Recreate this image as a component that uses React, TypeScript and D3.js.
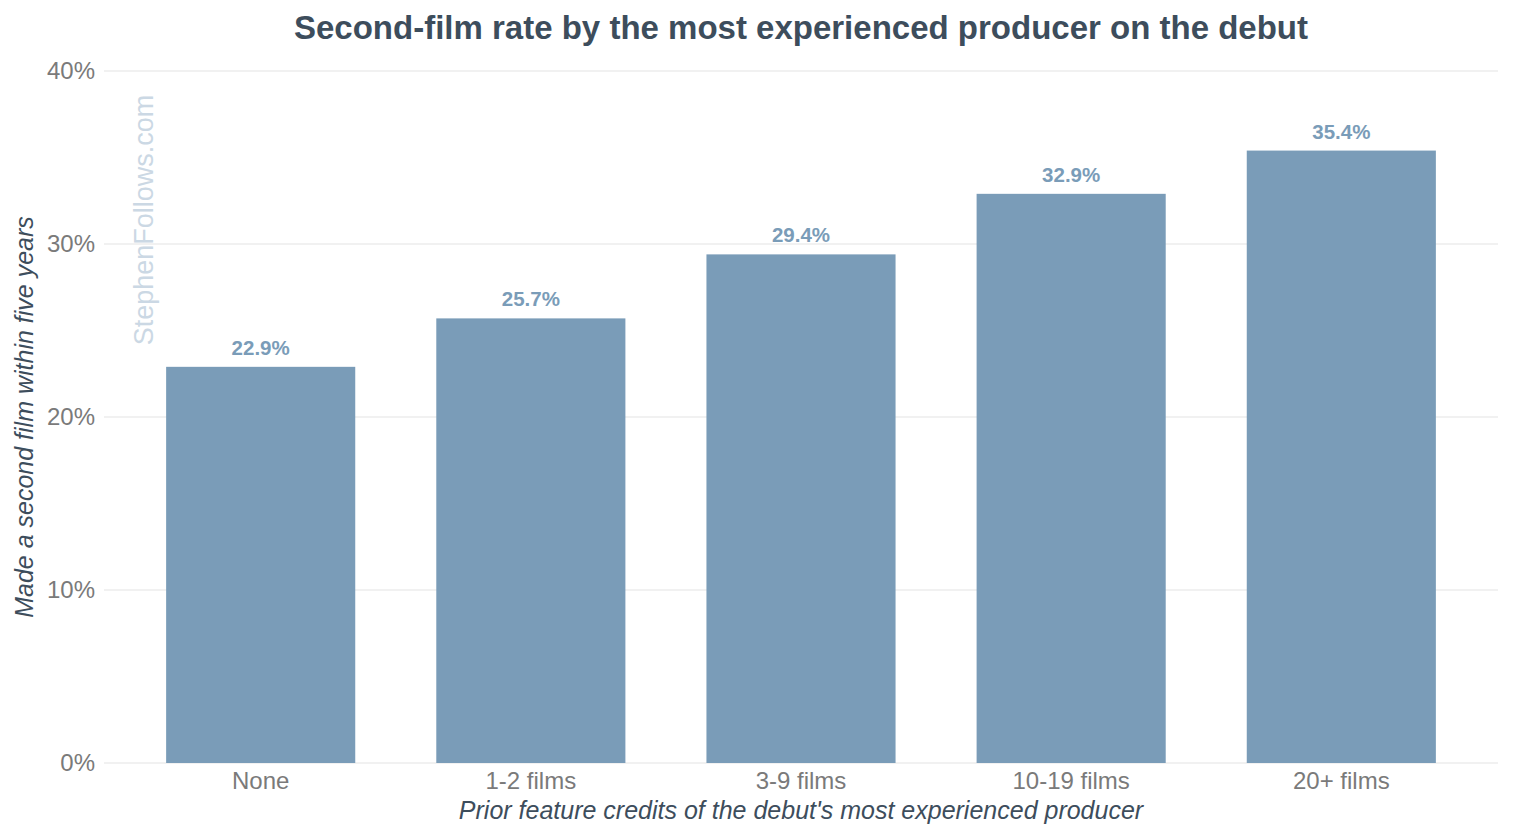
import * as d3 from "d3";
import React, { useEffect, useRef } from "react";

const categories = ["None", "1-2 films", "3-9 films", "10-19 films", "20+ films"];
const rates = [22.9, 25.7, 29.4, 32.9, 35.4];
const yTicks = [0, 10, 20, 30, 40];

const W = 1513;
const H = 840;

const App: React.FC = () => {
  const svgRef = useRef<SVGSVGElement | null>(null);

  useEffect(() => {
    const svg = d3.select(svgRef.current);
    svg.selectAll("*").remove();

    const margin = { top: 71, right: 15, bottom: 77, left: 104 };
    const font = "Liberation Sans, Arial, sans-serif";

    const x = d3
      .scaleBand<string>()
      .domain(categories)
      .range([margin.left, W - margin.right])
      .paddingInner(0.3)
      .paddingOuter(0.23);
    const y = d3.scaleLinear().domain([0, 40]).range([H - margin.bottom, margin.top]);

    // gridlines
    svg
      .append("g")
      .selectAll("line")
      .data(yTicks)
      .enter()
      .append("line")
      .attr("x1", margin.left)
      .attr("x2", W - margin.right)
      .attr("y1", (d) => y(d))
      .attr("y2", (d) => y(d))
      .attr("stroke", "#e3e3e3")
      .attr("stroke-width", 1);

    // y tick labels
    svg
      .append("g")
      .selectAll("text")
      .data(yTicks)
      .enter()
      .append("text")
      .attr("x", margin.left - 9)
      .attr("y", (d) => y(d))
      .attr("dy", "0.35em")
      .attr("text-anchor", "end")
      .attr("font-family", font)
      .attr("font-size", "24px")
      .attr("fill", "#7a7a7a")
      .text((d) => `${d}%`);

    // watermark
    svg
      .append("text")
      .attr("transform", `translate(153, 220) rotate(-90)`)
      .attr("text-anchor", "middle")
      .attr("font-family", font)
      .attr("font-size", "27px")
      .attr("fill", "#cbd8e4")
      .text("StephenFollows.com");

    // bars
    svg
      .append("g")
      .selectAll("rect")
      .data(rates)
      .enter()
      .append("rect")
      .attr("x", (_, i) => x(categories[i])!)
      .attr("y", (d) => y(d))
      .attr("width", x.bandwidth())
      .attr("height", (d) => y(0) - y(d))
      .attr("fill", "#7a9cb8");

    // value labels
    svg
      .append("g")
      .selectAll("text")
      .data(rates)
      .enter()
      .append("text")
      .attr("x", (_, i) => x(categories[i])! + x.bandwidth() / 2)
      .attr("y", (d) => y(d) - 12)
      .attr("text-anchor", "middle")
      .attr("font-family", font)
      .attr("font-size", "20.5px")
      .attr("font-weight", "bold")
      .attr("fill", "#7a9cb8")
      .text((d) => `${d.toFixed(1)}%`);

    // x tick labels
    svg
      .append("g")
      .selectAll("text")
      .data(categories)
      .enter()
      .append("text")
      .attr("x", (d) => x(d)! + x.bandwidth() / 2)
      .attr("y", y(0) + 26)
      .attr("text-anchor", "middle")
      .attr("font-family", font)
      .attr("font-size", "24px")
      .attr("fill", "#7a7a7a")
      .text((d) => d);

    // axis titles
    svg
      .append("text")
      .attr("x", 801)
      .attr("y", 819)
      .attr("text-anchor", "middle")
      .attr("font-family", font)
      .attr("font-size", "25px")
      .attr("font-style", "italic")
      .attr("fill", "#3d4d5c")
      .text("Prior feature credits of the debut's most experienced producer");

    svg
      .append("text")
      .attr("transform", `translate(33, ${(margin.top + H - margin.bottom) / 2}) rotate(-90)`)
      .attr("text-anchor", "middle")
      .attr("font-family", font)
      .attr("font-size", "25px")
      .attr("font-style", "italic")
      .attr("fill", "#3d4d5c")
      .text("Made a second film within five years");

    // title
    svg
      .append("text")
      .attr("x", 801)
      .attr("y", 39)
      .attr("text-anchor", "middle")
      .attr("font-family", font)
      .attr("font-size", "33px")
      .attr("font-weight", "bold")
      .attr("fill", "#3d4d5c")
      .text("Second-film rate by the most experienced producer on the debut");
  }, []);

  return <svg ref={svgRef} width={W} height={H} style={{ display: "block", margin: -8 }}></svg>;
};

export default App;
